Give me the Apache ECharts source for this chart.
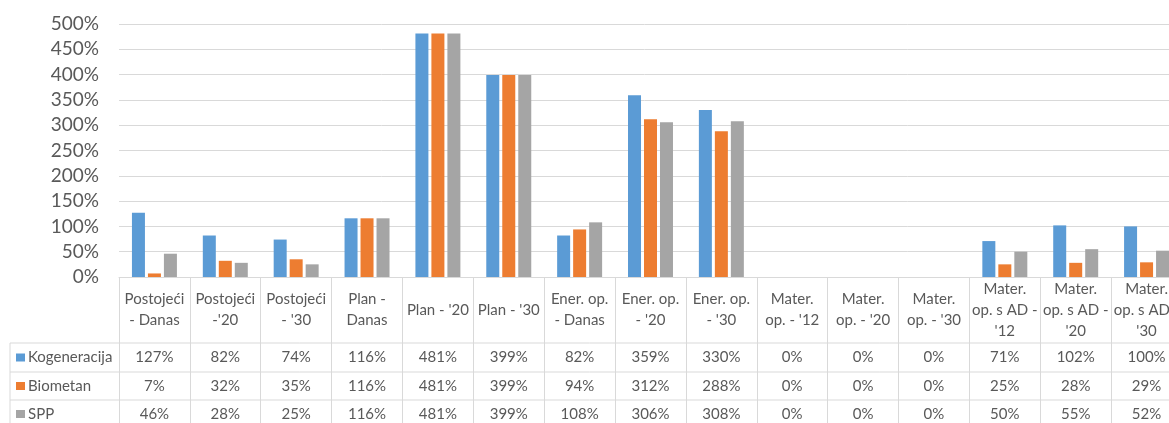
<!DOCTYPE html>
<html><head><meta charset="utf-8">
<script src="https://cdn.jsdelivr.net/npm/echarts@6/dist/echarts.min.js"></script>
<style>html,body{margin:0;padding:0;background:#fff}#c{width:1169px;height:423px}</style>
</head><body><div id="c"></div>
<script>
const categories = ["Postojeći\n- Danas", "Postojeći\n-'20", "Postojeći\n- '30", "Plan -\nDanas", "Plan - '20", "Plan - '30", "Ener. op.\n- Danas", "Ener. op.\n- '20", "Ener. op.\n- '30", "Mater.\nop. - '12", "Mater.\nop. - '20", "Mater.\nop. - '30", "Mater.\nop. s AD -\n'12", "Mater.\nop. s AD -\n'20", "Mater.\nop. s AD -\n'30"];
const seriesNames = ["Kogeneracija", "Biometan", "SPP"];
const kogeneracija = [127, 82, 74, 116, 481, 399, 82, 359, 330, 0, 0, 0, 71, 102, 100];
const biometan = [7, 32, 35, 116, 481, 399, 94, 312, 288, 0, 0, 0, 25, 28, 29];
const spp = [46, 28, 25, 116, 481, 399, 108, 306, 308, 0, 0, 0, 50, 55, 52];
const colors = ["#5B9BD5", "#ED7D31", "#A5A5A5"];

const FONT = "Lato";
const TXT = "#595959";
const LINE = "#D9D9D9";
const chart = echarts.init(document.getElementById('c'), null, {renderer: 'canvas'});
const allData = [kogeneracija, biometan, spp];
chart.setOption({
  animation: false,
  grid: {left: 119, top: 24, width: 1063, height: 253, outerBoundsMode: 'none', containLabel: false},
  xAxis: {
    type: 'category', data: categories, boundaryGap: true,
    axisLine: {lineStyle: {color: LINE, width: 1}},
    axisTick: {show: true, interval: 0, length: 150, lineStyle: {color: LINE, width: 1}},
    axisLabel: {interval: 0, color: TXT, fontFamily: FONT, fontSize: 15, lineHeight: 21, verticalAlign: 'middle', margin: 33}
  },
  yAxis: {
    type: 'value', min: 0, max: 500, interval: 50,
    axisLine: {show: false}, axisTick: {show: false},
    axisLabel: {formatter: '{value}%', color: TXT, fontFamily: FONT, fontSize: 19, margin: 20},
    splitLine: {lineStyle: {color: LINE, width: 1}}
  },
  series: allData.map((d, i) => ({
    name: seriesNames[i], type: 'bar', data: d, barWidth: 13, barGap: '23%',
    itemStyle: {color: colors[i]}
  }))
});

// data table below the axis, positioned through the axis scale
const rowY = [343, 372, 400, 428];
const g = [];
rowY.slice(0, 3).forEach(y => g.push({type: 'line', shape: {x1: 10, y1: y, x2: 1169, y2: y}, style: {stroke: LINE, lineWidth: 1}}));
g.push({type: 'line', shape: {x1: 10, y1: 343, x2: 10, y2: 423}, style: {stroke: LINE, lineWidth: 1}});
allData.forEach((d, r) => {
  const cy = (rowY[r] + rowY[r + 1]) / 2;
  g.push({type: 'rect', shape: {x: 16, y: cy - 4, width: 9, height: 8}, style: {fill: colors[r]}});
  g.push({type: 'text', style: {x: 28, y: cy, text: seriesNames[r], fill: TXT, font: '15px ' + FONT, verticalAlign: 'middle', align: 'left'}});
  d.forEach((v, i) => {
    const x = chart.convertToPixel({xAxisIndex: 0}, i);
    g.push({type: 'text', style: {x: x, y: cy, text: v + '%', fill: TXT, font: '15px ' + FONT, verticalAlign: 'middle', align: 'center'}});
  });
});
chart.setOption({graphic: g.map(e => Object.assign({silent: true}, e))});
</script></body></html>
